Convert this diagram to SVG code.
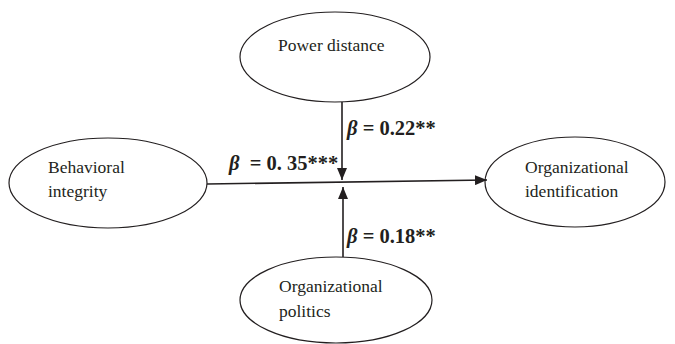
<svg xmlns="http://www.w3.org/2000/svg" width="675" height="344" viewBox="0 0 675 344">
<defs>
<marker id="ah" markerWidth="12" markerHeight="10" refX="12" refY="5" orient="auto" markerUnits="userSpaceOnUse">
<path d="M0,0 L12,5 L0,10 Z" fill="#231f20"/>
</marker>
</defs>
<style>
.n ellipse{fill:#fff;stroke:#231f20;stroke-width:1.2}
.n text{font-family:"Liberation Serif",serif;font-size:17.5px;fill:#231f20}
.c line{stroke:#231f20;stroke-width:1.6}
.l{font-family:"Liberation Serif",serif;font-size:20.5px;font-weight:bold;fill:#231f20}
.b{font-style:italic}
</style>
<rect width="675" height="344" fill="#fff"/>
<g id="power-distance" class="n">
<ellipse cx="335" cy="57" rx="95" ry="45"/>
<text x="278" y="51">Power distance</text>
</g>
<g id="behavioral-integrity" class="n">
<ellipse cx="108" cy="183" rx="99" ry="45"/>
<text x="48" y="173">Behavioral</text>
<text x="48" y="197">integrity</text>
</g>
<g id="organizational-identification" class="n">
<ellipse cx="575" cy="182" rx="90" ry="45"/>
<text x="525" y="173">Organizational</text>
<text x="525" y="197">identification</text>
</g>
<g id="organizational-politics" class="n">
<ellipse cx="336" cy="300" rx="96" ry="43"/>
<text x="279" y="292">Organizational</text>
<text x="279" y="317">politics</text>
</g>
<g id="connectors" class="c">
<line x1="207" y1="184" x2="487" y2="180" marker-end="url(#ah)"/>
<line x1="342" y1="102" x2="342" y2="180" marker-end="url(#ah)"/>
<line x1="343" y1="257" x2="343" y2="187" marker-end="url(#ah)"/>
</g>
<g id="labels">
<text class="l" x="347" y="135"><tspan class="b">β</tspan> = 0.22**</text>
<text class="l" x="229" y="170" xml:space="preserve"><tspan class="b">β</tspan>  = 0. 35***</text>
<text class="l" x="347" y="243"><tspan class="b">β</tspan> = 0.18**</text>
</g>
</svg>
